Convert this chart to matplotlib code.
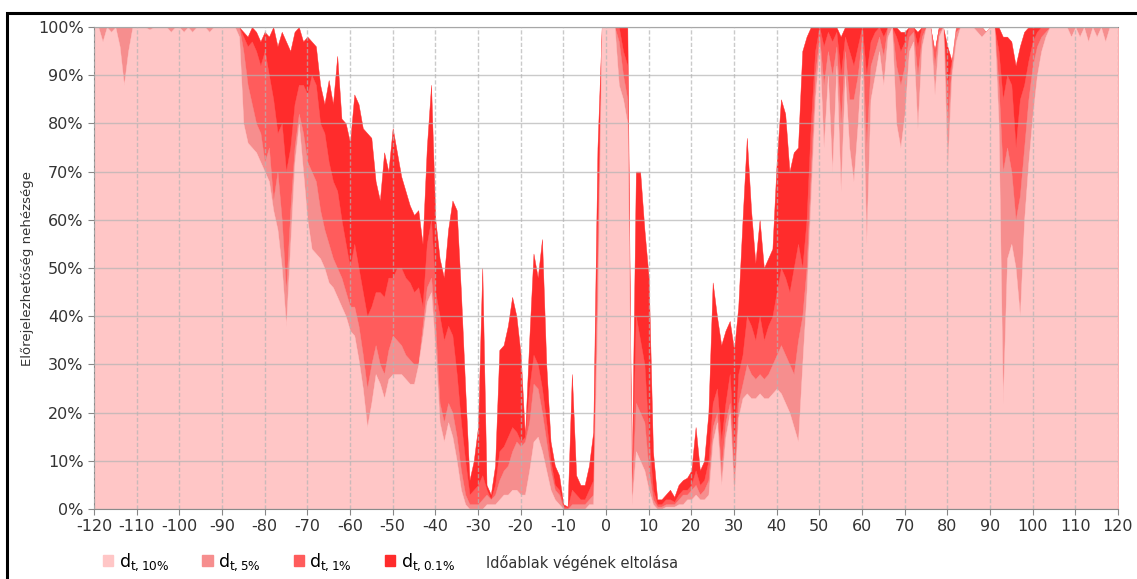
import matplotlib
matplotlib.use("Agg")
import matplotlib.pyplot as plt
import matplotlib.patches as mpatches
import numpy as np

plt.rcParams['axes.unicode_minus'] = False

# shift of the window end (x) and difficulty values (%) for the four thresholds
shift = np.arange(-120, 121)

d_01 = [  # d_t,0.1%
    100, 100, 100, 100, 100, 100, 100, 100, 100, 100,
    100, 100, 100, 100, 100, 100, 100, 100, 100, 100,
    100, 100, 100, 100, 100, 100, 100, 100, 100, 100,
    100, 100, 100, 100, 100, 99, 98, 100, 99, 97,
    99, 98, 100, 96, 99, 97, 95, 99, 100, 97,
    98, 97, 96, 88, 84, 89, 84, 94, 81, 80,
    76, 86, 84, 79, 78, 77, 68, 64, 74, 70,
    79, 74, 69, 66, 63, 61, 62, 55, 75, 88,
    60, 52, 48, 58, 64, 62, 45, 25, 6, 10,
    17, 50, 5, 3, 9, 33, 34, 38, 44, 40,
    32, 15, 35, 53, 48, 56, 30, 14, 9, 7,
    1, 0.5, 28, 7, 5, 5, 9, 16, 75, 100,
    100, 100, 100, 100, 100, 100, 5, 70, 70, 58,
    48, 12, 2, 2, 3, 4, 2.5, 5, 6, 6.5,
    8, 17, 8, 10, 20, 47, 40, 34, 37, 39,
    33, 42, 60, 77, 62, 51, 60, 50, 52, 54,
    72, 85, 82, 70, 74, 75, 95, 98, 100, 100,
    100, 100, 100, 100, 100, 98, 100, 100, 100, 100,
    100, 100, 100, 100, 100, 100, 100, 100, 100, 99,
    99, 100, 100, 99, 100, 100, 100, 95, 100, 100,
    96, 93, 97, 100, 100, 100, 100, 100, 100, 99,
    100, 100, 100, 98, 98, 97, 92, 96, 99, 100,
    100, 100, 100, 100, 100, 100, 100, 100, 100, 100,
    100, 100, 100, 100, 100, 100, 100, 100, 100, 100,
    100,
]

d_1 = [  # d_t,1%
    100, 100, 100, 100, 100, 100, 100, 100, 100, 100,
    100, 100, 100, 100, 100, 100, 100, 100, 100, 100,
    100, 100, 100, 100, 100, 100, 100, 100, 100, 100,
    100, 100, 100, 100, 100, 98, 96, 97, 95, 92,
    95, 90, 85, 78, 80, 70, 75, 84, 88, 88,
    86, 90, 88, 80, 78, 72, 68, 66, 60, 55,
    50, 55, 50, 45, 40, 42, 45, 45, 44, 48,
    48, 50, 50, 48, 47, 45, 46, 42, 55, 60,
    45, 40, 35, 38, 36, 28, 18, 10, 3, 4,
    5, 7, 4, 2, 5, 12, 13, 15, 17, 16,
    14, 15, 25, 32, 30, 25, 18, 10, 5, 4,
    0.5, 0.3, 4, 3, 2, 2, 4, 6, 60, 100,
    100, 100, 100, 100, 95, 92, 4, 40, 35, 30,
    15, 4, 1, 1, 2, 2, 1.5, 3, 4, 4,
    5, 8, 5, 6, 10, 22, 25, 14, 22, 28,
    12, 28, 32, 40, 38, 35, 40, 35, 38, 40,
    45, 50, 48, 45, 50, 55, 50, 60, 80, 95,
    100, 96, 99, 97, 99, 90, 98, 95, 92, 96,
    100, 90, 97, 99, 100, 98, 100, 100, 98, 95,
    97, 100, 100, 96, 100, 100, 100, 95, 100, 100,
    88, 93, 100, 100, 100, 100, 100, 100, 100, 99,
    100, 100, 95, 85, 90, 88, 75, 85, 88, 93,
    97, 99, 100, 100, 100, 100, 100, 100, 100, 100,
    100, 100, 100, 100, 100, 100, 100, 100, 100, 100,
    100,
]

d_5 = [  # d_t,5%
    100, 100, 100, 100, 100, 100, 100, 100, 100, 100,
    100, 100, 100, 100, 100, 100, 100, 100, 100, 100,
    100, 100, 100, 100, 100, 100, 100, 100, 100, 100,
    100, 100, 100, 100, 100, 95, 88, 84, 80, 78,
    72, 75, 64, 70, 60, 45, 62, 75, 82, 78,
    72, 70, 68, 62, 58, 55, 52, 50, 48, 45,
    42, 42, 38, 32, 25, 30, 34, 30, 28, 33,
    36, 35, 34, 32, 31, 30, 30, 38, 46, 48,
    38, 22, 18, 22, 20, 15, 8, 3, 1, 1,
    1, 2, 3, 2, 3, 6, 8, 9, 12, 14,
    13, 14, 18, 26, 25, 20, 14, 8, 4, 3,
    0, 0, 1, 1, 1, 1, 2, 3, 50, 100,
    100, 100, 100, 97, 90, 85, 3, 22, 20, 18,
    8, 2, 0.5, 0.5, 1, 1, 1, 2, 3, 3,
    4, 5, 3, 4, 6, 17, 20, 8, 18, 22,
    6, 22, 26, 30, 28, 27, 28, 27, 28, 30,
    32, 34, 32, 30, 28, 35, 40, 50, 70, 90,
    98, 88, 95, 90, 96, 80, 95, 85, 85, 90,
    98, 75, 92, 95, 98, 94, 100, 100, 92, 88,
    92, 98, 99, 90, 98, 100, 100, 92, 99, 100,
    80, 92, 99, 100, 100, 100, 100, 100, 100, 99,
    100, 100, 88, 70, 75, 70, 60, 65, 75, 85,
    92, 96, 98, 99, 100, 100, 100, 100, 100, 100,
    100, 100, 100, 100, 100, 100, 100, 100, 100, 100,
    100,
]

d_10 = [  # d_t,10%
    100, 100, 97, 100, 99, 100, 96, 88, 95, 100,
    100, 100, 100, 99.5, 100, 100, 100, 100, 99, 100,
    100, 99, 100, 99, 100, 100, 100, 99, 100, 100,
    100, 100, 100, 100, 98, 80, 76, 75, 74, 72,
    70, 68, 62, 58, 50, 38, 55, 72, 80, 70,
    60, 54, 53, 52, 50, 47, 46, 44, 42, 40,
    37, 36, 31, 25, 17, 22, 28, 26, 23, 27,
    28, 28, 28, 27, 26, 26, 30, 36, 43, 45,
    33, 18, 14, 18, 15, 10, 4, 1, 0, 0,
    0, 0, 1, 1, 1, 2, 3, 3, 4, 4,
    3, 3, 8, 14, 15, 12, 8, 4, 2, 1,
    0, 0, 0, 0, 0, 0, 1, 1, 40, 100,
    100, 100, 100, 88, 85, 80, 1, 12, 10, 8,
    4, 1, 0, 0, 0.5, 0.5, 0.5, 1, 1, 2,
    2, 3, 2, 2, 3, 14, 18, 5, 15, 20,
    3, 19, 23, 24, 23, 23, 24, 23, 23, 24,
    25, 24, 22, 20, 17, 14, 30, 45, 65, 85,
    96, 75, 90, 70, 92, 66, 90, 75, 68, 80,
    95, 55, 85, 90, 95, 88, 98, 100, 80, 75,
    82, 95, 97, 79, 96, 100, 100, 86, 98, 100,
    71, 90, 97, 100, 100, 100, 100, 99, 98, 99,
    100, 100, 80, 22, 52, 55, 50, 40, 60, 72,
    82, 90, 95, 98, 100, 100, 100, 100, 100, 98,
    100, 98, 100, 97, 100, 98, 100, 97, 100, 100,
    100,
]

labels = [r'd$_{\mathregular{t,10\%}}$', r'd$_{\mathregular{t,5\%}}$',
          r'd$_{\mathregular{t,1\%}}$', r'd$_{\mathregular{t,0.1\%}}$']
colors = ['#ffc6c6', '#f68e8e', '#ff5c5c', '#ff2c2c']

fig = plt.figure(figsize=(11.37, 5.79), dpi=100)
ax = fig.add_axes([94 / 1137, 1 - 509 / 579, 1024 / 1137, 482 / 579])

# back to front: the strictest threshold is drawn first
for vals, col in zip([d_01, d_1, d_5, d_10], colors[::-1]):
    ax.fill_between(shift, 0, vals, color=col, lw=0.3, edgecolor=col, zorder=1)

ax.set_xlim(-120, 120)
ax.set_ylim(0, 100)
ax.set_xticks(np.arange(-120, 121, 10))
ax.set_yticks(np.arange(0, 101, 10))
ax.set_yticklabels([f'{v}%' for v in range(0, 101, 10)])
ax.tick_params(labelsize=11.5, labelcolor='#333333', color='#888888', length=4)

ax.set_axisbelow(False)
ax.yaxis.grid(True, color='#b4b4b4', lw=1, alpha=0.7)
ax.xaxis.grid(True, color='#b4b4b4', lw=1, alpha=0.7, linestyle=(0, (3, 1.5)))

for side in ['left', 'bottom', 'top']:
    ax.spines[side].set_color('#8a8a8a')
ax.spines['right'].set_visible(False)

ax.set_ylabel('Előrejelezhetőség nehézsége', fontsize=9.5, color='#333333',
              family=['Liberation Sans Narrow', 'DejaVu Sans'])
ax.yaxis.set_label_coords(-0.059, 0.5)

handles = [mpatches.Patch(color=c) for c in colors]
fig.legend(handles, labels, loc='center left', bbox_to_anchor=(96 / 1137, 1 - 562 / 579),
           ncol=4, frameon=False, fontsize=12.5, handlelength=0.6, handleheight=0.6,
           handletextpad=0.3, columnspacing=1.9, borderaxespad=0)

fig.text(582 / 1137, 1 - 563 / 579, 'Időablak végének eltolása', fontsize=10.5,
         color='#333333', ha='center', va='center',
         family=['Liberation Sans Narrow', 'DejaVu Sans'])

# black frame round the chart
fig.patches.append(mpatches.Rectangle((7 / 1137, -0.05), 1.0, 1 - 13 / 579 + 0.05,
                                      transform=fig.transFigure, fill=False,
                                      edgecolor='black', lw=2.2))

fig.savefig('out.png', dpi=100)
